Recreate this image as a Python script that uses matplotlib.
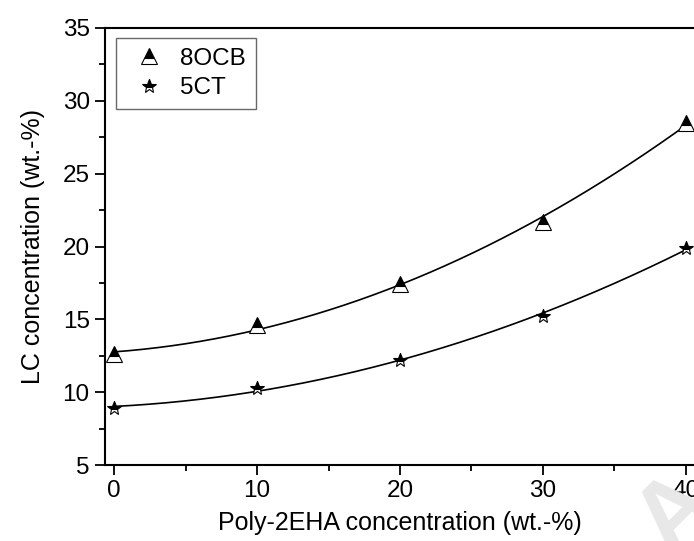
import numpy as np
import matplotlib
matplotlib.use("Agg")
import matplotlib.pyplot as plt
from matplotlib.ticker import MultipleLocator
from matplotlib.lines import Line2D

plt.rcParams['font.family'] = ['Liberation Sans', 'DejaVu Sans']

# Polymer content (wt.-%) and measured LC content (wt.-%)
poly_conc = [0, 10, 20, 30, 40]
lc_8ocb = [12.6, 14.6, 17.4, 21.7, 28.5]
lc_5ct = [8.9, 10.3, 12.2, 15.2, 19.9]
series_names = ["8OCB", "5CT"]

W, H = 694, 541
fig = plt.figure(figsize=(W / 100, H / 100), dpi=100)
ax = fig.add_axes([105 / W, 1 - 465 / H, (W - 105) / W, (465 - 28) / H])

# Second-order fits through each data set
xf = np.linspace(0, 40, 200)
for y in (lc_8ocb, lc_5ct):
    c = np.polyfit(poly_conc, y, 2)
    ax.plot(xf, np.polyval(c, xf), color='black', lw=1.2, zorder=2)

tri_style = dict(ls='none', marker='^', ms=11, fillstyle='top',
                 markerfacecolor='black', markerfacecoloralt='white',
                 markeredgecolor='black', mew=0.8)
star_style = dict(ls='none', marker='*', ms=10, fillstyle='top',
                  markerfacecolor='black', markerfacecoloralt='white',
                  markeredgecolor='black', mew=0.8)

ax.plot(poly_conc, lc_8ocb, zorder=3, clip_on=False, **tri_style)
ax.plot(poly_conc, lc_5ct, zorder=3, clip_on=False, **star_style)

ax.set_xlim(-0.63, 40.56)
ax.set_ylim(5, 35)
ax.xaxis.set_major_locator(MultipleLocator(10))
ax.xaxis.set_minor_locator(MultipleLocator(5))
ax.yaxis.set_major_locator(MultipleLocator(5))
ax.yaxis.set_minor_locator(MultipleLocator(2.5))
ax.tick_params(which='major', direction='out', length=7, width=1.3,
               labelsize=17.5, pad=4)
ax.tick_params(which='minor', direction='out', length=4, width=1.3)
for side in ('left', 'bottom', 'top'):
    ax.spines[side].set_linewidth(1.5)
ax.spines['right'].set_visible(False)

ax.set_xlabel("Poly-2EHA concentration (wt.-%)", fontsize=18, labelpad=6)
ax.set_ylabel("LC concentration (wt.-%)", fontsize=18, labelpad=13)

handles = [Line2D([], [], **tri_style), Line2D([], [], **star_style)]
leg = ax.legend(handles, series_names, loc='upper left',
                bbox_to_anchor=(11 / 589, 1 - 10 / 437), borderaxespad=0,
                fontsize=17.5, frameon=True, fancybox=False,
                edgecolor='#444444', handletextpad=0.35, borderpad=0.4,
                labelspacing=0.3, handlelength=1.9)
leg.get_frame().set_linewidth(1.0)

# Faint diagonal watermark in the lower-right corner
fig.text(0.975, 0.05, "A", rotation=45, fontsize=70, fontweight='bold',
         color='#e8e8e8', ha='center', va='center', zorder=0)

fig.savefig("out.png", dpi=100)
